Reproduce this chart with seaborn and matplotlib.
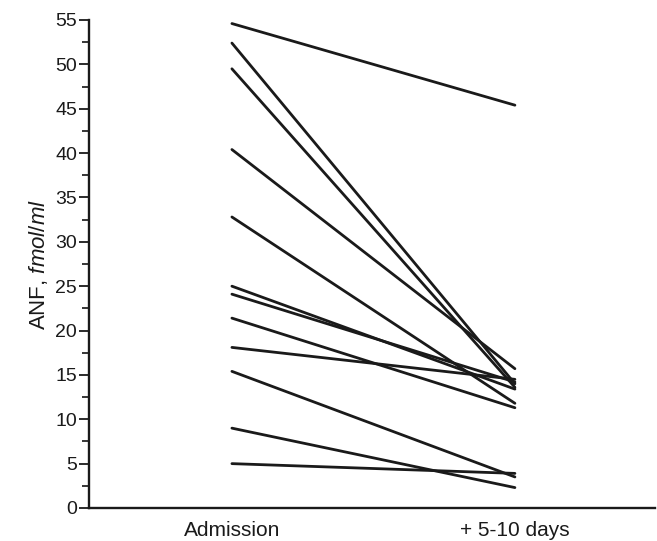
import matplotlib
matplotlib.use("Agg")
import matplotlib.pyplot as plt
import seaborn as sns
import pandas as pd
from matplotlib.ticker import MultipleLocator

# Data
times = ["Admission", "+ 5-10 days"]
admission = [54.6, 52.4, 49.5, 40.4, 32.8, 25.0, 24.1, 21.4, 18.1, 15.4, 9.0, 5.0]
followup = [45.4, 14.0, 13.6, 15.7, 11.8, 13.4, 14.2, 11.3, 14.5, 3.5, 2.3, 3.9]

rows = []
for i, (a, f) in enumerate(zip(admission, followup)):
    rows.append({"subject": i, "time": times[0], "ANF": a})
    rows.append({"subject": i, "time": times[1], "ANF": f})
df = pd.DataFrame(rows)

sns.set_style("ticks")
plt.rcParams['font.family'] = ['Liberation Sans', 'DejaVu Sans']
plt.rcParams['mathtext.fontset'] = 'custom'
plt.rcParams['mathtext.it'] = 'Liberation Sans:italic'
plt.rcParams['mathtext.rm'] = 'Liberation Sans'

fig = plt.figure(figsize=(6.57, 5.41), dpi=100)
ax = fig.add_axes([89/657, 1 - 508/541, (655-89)/657, (508-20)/541])

sns.lineplot(data=df, x="time", y="ANF", units="subject", estimator=None,
             color="#1a1a1a", linewidth=2.0, ax=ax, sort=False)

ax.set_ylim(0, 55)
ax.set_xlim(-0.505, 1.495)
ax.yaxis.set_major_locator(MultipleLocator(5))
ax.yaxis.set_minor_locator(MultipleLocator(2.5))
ax.tick_params(axis="y", which="major", length=7, width=1.3, labelsize=14, pad=1.5, colors="#1a1a1a")
ax.tick_params(axis="y", which="minor", length=5, width=1.3)
ax.tick_params(axis="x", length=0, labelsize=15, pad=9, colors="#1a1a1a")
ax.set_xticks([0, 1])
ax.set_xticklabels(times)
ax.set_xlabel("")
ax.set_ylabel(r"ANF, $\it{fmol/ml}$", fontsize=16, labelpad=4, color="#1a1a1a")

for s in ["top", "right"]:
    ax.spines[s].set_visible(False)
for s in ["left", "bottom"]:
    ax.spines[s].set_linewidth(1.7)
    ax.spines[s].set_color("#1a1a1a")

fig.savefig("out.png", dpi=100, facecolor="white")
